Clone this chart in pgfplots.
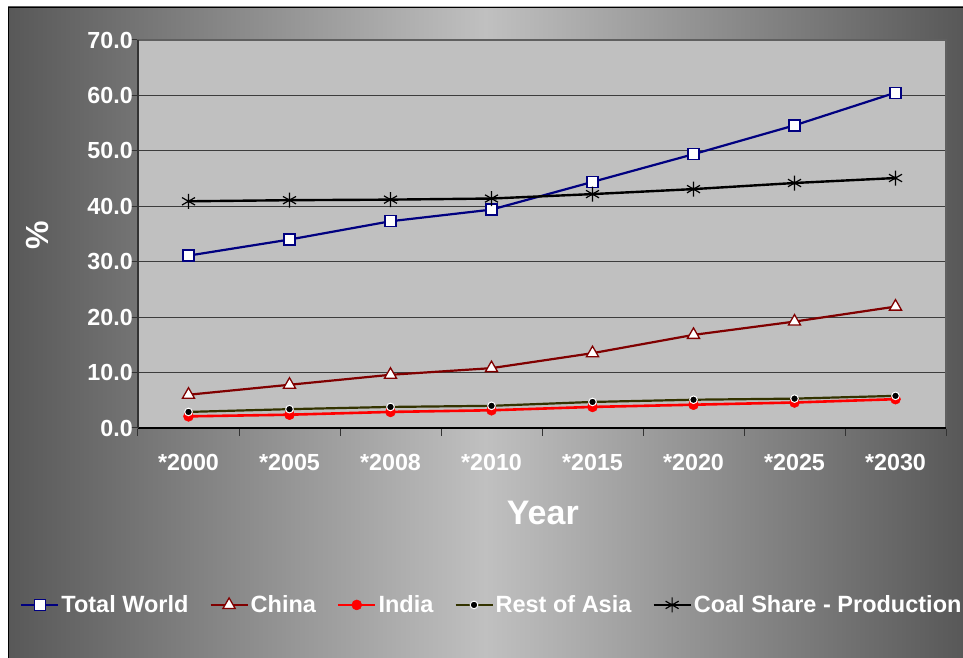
\documentclass[border=0pt]{standalone}
\usepackage{fontspec}
\setmainfont{Liberation Sans}
\usepackage{pgfplots}
\pgfplotsset{compat=1.18}
\definecolor{navyc}{HTML}{000080}
\definecolor{maroonc}{HTML}{800000}
\definecolor{olivec}{HTML}{333300}
\definecolor{gridc}{HTML}{3C3C3C}
\definecolor{plotbg}{HTML}{C0C0C0}
\definecolor{edgec}{HTML}{585858}
\definecolor{framec}{HTML}{606060}

\pgfplotstableread{
x tw china india roa coal
0 31.1 6.0 2.1 2.9 40.9
1 34.0 7.8 2.4 3.4 41.1
2 37.3 9.6 2.9 3.8 41.2
3 39.4 10.8 3.2 4.0 41.4
4 44.4 13.5 3.8 4.7 42.2
5 49.4 16.8 4.2 5.1 43.1
6 54.6 19.2 4.6 5.3 44.2
7 60.5 21.9 5.2 5.8 45.1
}\datatable
\usepackage{pgfplotstable}

\begin{document}
\begin{tikzpicture}[x=1pt,y=1pt]
\fill[white] (0,0) rectangle (963,658);
\useasboundingbox (0,0) rectangle (963,658);
\shade[left color=edgec, right color=edgec, middle color=plotbg] (8,0) rectangle (963,651);
\draw[black, line width=1pt] (8.5,0) -- (8.5,650.5) -- (963,650.5);
\begin{axis}[
  at={(138pt,230pt)}, anchor=south west,
  scale only axis, width=808pt, height=388pt,
  xmin=-0.5, xmax=7.5, ymin=0, ymax=70,
  xtick={0,1,2,3,4,5,6,7},
  xticklabels={*2000,*2005,*2008,*2010,*2015,*2020,*2025,*2030},
  minor xtick={-0.5,0.5,1.5,2.5,3.5,4.5,5.5,6.5,7.5},
  ytick={0,10,20,30,40,50,60,70},
  tick align=outside,
  xtick pos=left, ytick pos=left,
  major x tick style={draw=none},
  minor tick length=8pt, major tick length=8pt,
  tick style={black!80, line width=1pt},
  ymajorgrids,
  major grid style={gridc, line width=1.2pt},
  axis background/.style={fill=plotbg},
  axis line style={draw=framec, line width=2pt},
  yticklabel={\pgfmathprintnumber[fixed,fixed zerofill,precision=1,assume math mode=true]{\tick}},
  tick label style={font=\fontsize{23.3}{27}\selectfont\bfseries, text=white},
  yticklabel style={anchor=east, inner sep=0pt, xshift=3pt},
  xticklabel style={anchor=base, inner sep=0pt, yshift=-35pt},
  xlabel={Year},
  xlabel style={at={(axis description cs:0.501,-0.219)}, anchor=center, font=\fontsize{34}{40}\selectfont\bfseries, text=white},
  ylabel={\%},
  ylabel style={at={(axis description cs:-0.124,0.497)}, anchor=center, rotate=0, font=\fontsize{32}{38}\selectfont\bfseries, text=white},
  legend columns=5,
  legend style={at={(axis description cs:-0.146,-0.456)}, anchor=west, draw=none, fill=none,
    font=\fontsize{23.5}{27}\selectfont\bfseries, text=white, inner sep=0pt,
    /tikz/every even column/.append style={column sep=19pt}},
  legend cell align=left,
  legend image code/.code={\draw[mark repeat=2,mark phase=2,#1] plot coordinates {(0pt,0pt) (18.5pt,0pt) (37pt,0pt)};},
  clip=false,
]
\addplot[navyc, line width=2.2pt, mark=square*, mark size=5.5pt, mark options={fill=white, draw=navyc, line width=1.3pt, solid}] table[x=x,y=tw] {\datatable};
\addlegendentry{Total World}
\addplot[maroonc, line width=2.2pt, mark=triangle*, mark size=7pt, mark options={fill=white, draw=maroonc, line width=1.3pt, solid}] table[x=x,y=china] {\datatable};
\addlegendentry{China}
\addplot[red, line width=2.6pt, mark=*, mark size=5pt, mark options={fill=red, draw=red, line width=0.5pt, solid}] table[x=x,y=india] {\datatable};
\addlegendentry{India}
\addplot[olivec, line width=2.2pt, mark=*, mark size=3.8pt, mark options={fill=black, draw=white, line width=1pt, solid}] table[x=x,y=roa] {\datatable};
\addlegendentry{Rest of Asia}
\addplot[black, line width=2.4pt, mark=asterisk, mark size=7.5pt, mark options={black, line width=1.2pt, solid}] table[x=x,y=coal] {\datatable};
\addlegendentry{Coal Share - Production}
\draw[black, line width=2pt] (rel axis cs:0,0) -- (rel axis cs:1,0);
\draw[black!80, line width=2pt] (rel axis cs:0,0) -- (rel axis cs:0,1);
\end{axis}
\end{tikzpicture}
\end{document}
